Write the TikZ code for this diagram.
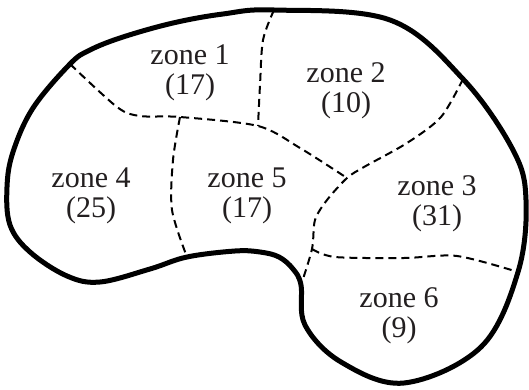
\documentclass[tikz,border=0pt]{standalone}
\usepackage{fontspec}
\setmainfont{Liberation Serif}
\definecolor{ink}{RGB}{35,31,32}
\begin{document}
\begin{tikzpicture}[x=1pt,y=-1pt,
  outline/.style={line width=5pt, line join=round},
  zoneline/.style={line width=2pt, dash pattern=on 8pt off 5pt},
  zonelabel/.style={align=center, text=ink, font=\fontsize{30}{30}\selectfont, inner sep=0pt}]
\useasboundingbox (0,0) rectangle (529,390);
% junctions on the outline
\coordinate (Jtop) at (274,10);
\coordinate (J5) at (463,79);
\coordinate (J7) at (518,272);
\coordinate (J8) at (301,285);
\coordinate (J9) at (187,257);
\coordinate (J1) at (70,64);
% inner junctions
\coordinate (J2) at (180,117);
\coordinate (J3) at (258,126);
\coordinate (J4) at (347,178);
\coordinate (J6) at (312,249);
% outline
\draw[outline] plot[smooth cycle, tension=0.6] coordinates {
  (Jtop) (390,20) (J5) (513,150) (526,200) (J7) (481,347) (404,383)
  (341,362) (305,325) (J8) (293,269) (279,257) (260,252) (235,251) (J9) (150,269)
  (100,282) (67,276) (30,252) (10,225) (7,187) (13,152) (33,108) (J1) (90,50) (123,37) (173,23) (223,14) };
% zone boundaries
\draw[zoneline] plot[smooth] coordinates {(J1) (117,107) (140,116) (J2) (J3) (300,148) (J4)};
\draw[zoneline] plot[smooth] coordinates {(Jtop) (263,40) (260,85) (J3)};
\draw[zoneline] plot[smooth] coordinates {(J2) (173,160) (172,210) (J9)};
\draw[zoneline] plot[smooth] coordinates {(J5) (441,117) (407,143) (364,167) (J4) (327,200) (315,220) (J6) (J8)};
\draw[zoneline] plot[smooth] coordinates {(J6) (335,257) (404,258) (457,256) (J7)};
% labels
\node[zonelabel] (z1) at (190,73) {zone 1\\(17)};
\node[zonelabel] (z2) at (346,91) {zone 2\\(10)};
\node[zonelabel] (z4) at (91,196) {zone 4\\(25)};
\node[zonelabel] (z5) at (247,196) {zone 5\\(17)};
\node[zonelabel] (z3) at (437,204) {zone 3\\(31)};
\node[zonelabel] (z6) at (399,316) {zone 6\\(9)};
\end{tikzpicture}
\end{document}
